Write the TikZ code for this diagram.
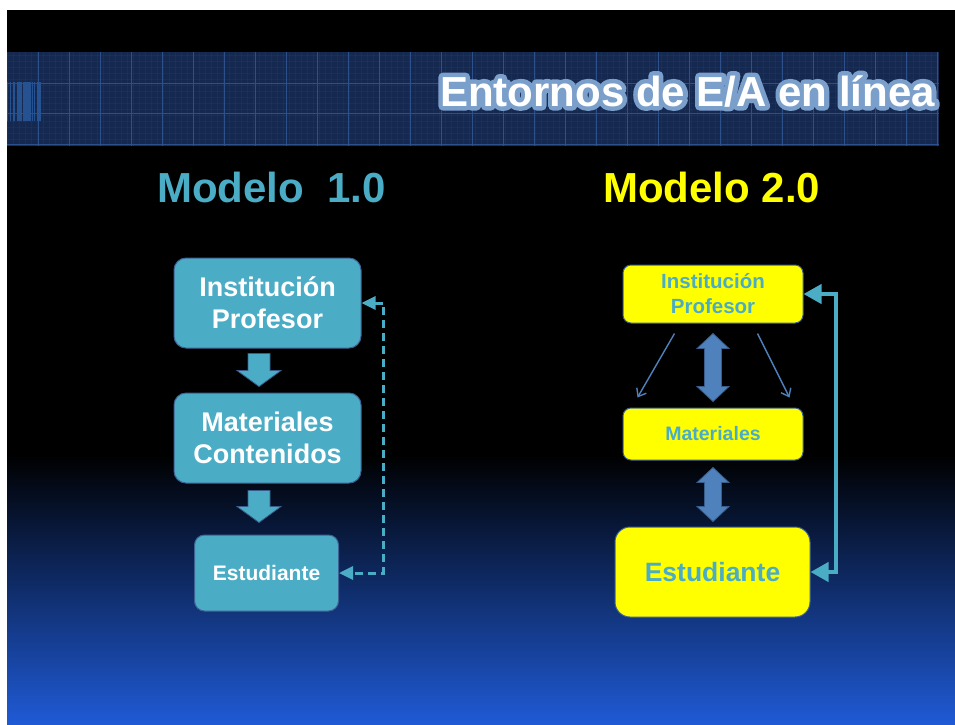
\documentclass[tikz,border=0pt]{standalone}
\usepackage{fontspec}
\setmainfont{Liberation Sans}
\usetikzlibrary{calc,arrows.meta,positioning}

\definecolor{mteal}{RGB}{75,172,198}
\definecolor{myellow}{RGB}{255,255,0}
\definecolor{msteel}{RGB}{79,129,189}
\definecolor{steeledge}{RGB}{56,93,138}
\definecolor{boxedge}{RGB}{62,98,148}
\definecolor{bannerfill}{RGB}{20,40,80}
\definecolor{bannerline}{RGB}{44,80,140}
\definecolor{barcode}{RGB}{38,82,146}
\definecolor{deepblue}{RGB}{31,90,213}
\definecolor{midblue}{RGB}{24,62,146}

% white letters with a light blue rim
\newcommand{\glowtext}[1]{\rlap{\special{pdf:literal direct 1 j 9 w 0.482 0.624 0.796 RG 0.482 0.624 0.796 rg 2 Tr}#1\special{pdf:literal direct 0 Tr 1 1 1 rg}}#1}

\begin{document}
\begin{tikzpicture}[x=1pt,y=-1pt,
  tealbox/.style={draw=boxedge,line width=1pt,fill=mteal,rounded corners=12pt,
    text=white,align=center,inner sep=0pt},
  yelbox/.style={draw=boxedge,line width=1pt,fill=myellow,rounded corners=8pt,
    text=mteal,align=center,inner sep=0pt},
  tealarr/.style={draw=steeledge,line width=0.8pt,fill=mteal},
  steelarr/.style={draw=steeledge,line width=0.8pt,fill=msteel},
  thinarr/.style={msteel,line width=1.4pt,-{Straight Barb[length=7pt,width=11pt]}},
  dashconn/.style={mteal,line width=3pt,dash pattern=on 8pt off 5pt,
    {Triangle[length=14pt,width=13pt]}-{Triangle[length=14pt,width=13pt]}},
  bigconn/.style={mteal,line width=4pt,
    {Triangle[length=18pt,width=19pt]}-{Triangle[length=18pt,width=19pt]}}]

\useasboundingbox (0,0) rectangle (955,724);

% background
\fill[white] (0,0) rectangle (955,724);
\fill[black] (7,10) rectangle (955,456);
\shade[top color=black,middle color=midblue,bottom color=deepblue]
  (7,455) rectangle (955,724);

% the banner
\fill[bannerfill] (7,52) rectangle (939,146);
\foreach \x in {7,13,...,939}
  \draw[bannerline,opacity=0.18,line width=0.5pt] (\x,52) -- (\x,146);
\foreach \y in {55,61,...,146}
  \draw[bannerline,opacity=0.18,line width=0.5pt] (7,\y) -- (939,\y);
\foreach \x in {38,69,...,939}
  \draw[bannerline,line width=0.8pt] (\x,52) -- (\x,146);
\foreach \y in {83,113,144}
  \draw[bannerline,line width=0.8pt] (7,\y) -- (939,\y);
\foreach \a/\b in {7/8,10/11,12.5/15,17/22,23/31,32/33,34/35,37/41}
  \fill[barcode] (\a,82) rectangle (\b,121);

% title
\node[anchor=base east,text=white,font=\bfseries\fontsize{42}{42}\selectfont,inner sep=0pt]
  (title) at (935,106) {\glowtext{Entornos de E/A en línea}};

% headings
\node[anchor=base west,text=mteal,font=\bfseries\fontsize{42}{42}\selectfont,inner sep=0pt]
  (mod1) at (157,202) {Modelo~~1.0};
\node[anchor=base west,text=myellow,font=\bfseries\fontsize{42}{42}\selectfont,inner sep=0pt]
  (mod2) at (603,202) {Modelo 2.0};

% modelo 1.0
\node[tealbox,minimum width=187pt,minimum height=90pt,
  font=\bfseries\fontsize{27}{32}\selectfont] (inst) at (267.5,303) {Institución\\Profesor};
\node[tealbox,minimum width=187pt,minimum height=90pt,
  font=\bfseries\fontsize{27}{32}\selectfont] (mat) at (267.5,438) {Materiales\\Contenidos};
\node[tealbox,minimum width=144pt,minimum height=76pt,rounded corners=10pt,
  font=\bfseries\fontsize{21}{25}\selectfont] (stud) at (266.5,573) {Estudiante};

% block arrows down
\draw[tealarr] ($(inst.south)+(-8.5,5)$) -- ++(11,0) -- ++(0,17) -- ++(11,0)
  -- ++(-22,16) -- ++(-22,-16) -- ++(11,0) -- ++(0,-17) -- cycle;
\draw[tealarr] ($(mat.south)+(-8.5,7)$) -- ++(11,0) -- ++(0,16) -- ++(11,0)
  -- ++(-22,16) -- ++(-22,-16) -- ++(11,0) -- ++(0,-16) -- cycle;

\draw[dashconn] (inst.east) -- ++(22,0) |- (stud.east);

% modelo 2.0
\node[yelbox,minimum width=180pt,minimum height=58pt,
  font=\bfseries\fontsize{20.5}{25}\selectfont] (rinst) at (713,294) {Institución\\Profesor};
\node[yelbox,minimum width=180pt,minimum height=52pt,
  font=\bfseries\fontsize{19.5}{24}\selectfont] (rmat) at (713,434) {Materiales};
\node[yelbox,minimum width=195pt,minimum height=90pt,rounded corners=15pt,
  font=\bfseries\fontsize{26.5}{30}\selectfont] (rstud) at (712.5,572) {Estudiante};

% double block arrows
\draw[steelarr] ($(rinst.south)+(0,10)$) -- ++(16,15) -- ++(-7.5,0) -- ++(0,38)
  -- ++(7.5,0) -- ++(-16,15) -- ++(-16,-15) -- ++(7.5,0) -- ++(0,-38) -- ++(-7.5,0) -- cycle;
\draw[steelarr] ($(rmat.south)+(0,7)$) -- ++(16,15) -- ++(-7.5,0) -- ++(0,24)
  -- ++(7.5,0) -- ++(-16,15) -- ++(-16,-15) -- ++(7.5,0) -- ++(0,-24) -- ++(-7.5,0) -- cycle;

\draw[thinarr] ([xshift=52pt,yshift=-10pt]rinst.south west) -- ([xshift=15pt,yshift=10pt]rmat.north west);
\draw[thinarr] ([xshift=-46pt,yshift=-10pt]rinst.south east) -- ([xshift=-14pt,yshift=10pt]rmat.north east);

\draw[bigconn] (rinst.east) -- ++(32,0) |- (rstud.east);

\end{tikzpicture}
\end{document}
